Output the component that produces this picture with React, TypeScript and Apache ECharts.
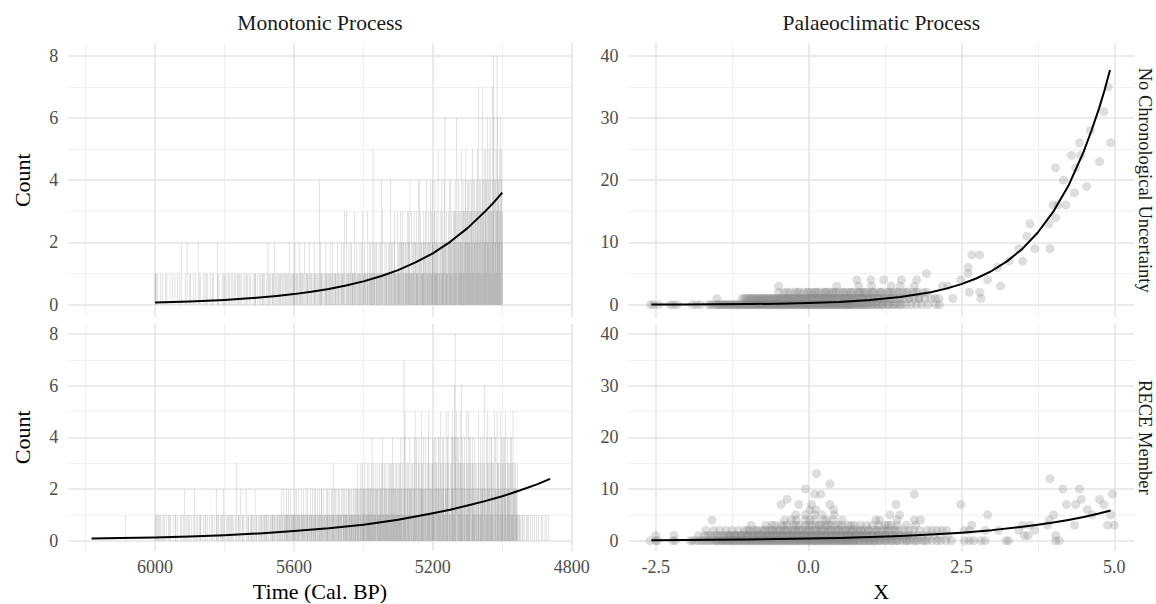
import React, { useEffect, useRef } from "react";
import * as echarts from "echarts";

// ---------- Monotonic process: yearly counts (one digit per year, oldest first) ----------
const topStartYear = 6000; // counts read from 6000 BP towards 5000 BP
const topCounts = [
  "1100100010 0000010000 0100000001 0000100000 0001000000 1000000100 0000010000 0100020000 0000000100 0020000001",
  "0001000000 1000001000 0000200010 0100000001 0000100100 0010000000 1000010010 0000000002 0100100000 0001000100",
  "1001000100 0010010000 1000100010 0100000101 0010010000 1000001001 0001000100 0100100000 0010000110 1000010000",
  "0100100010 1001001000 0100020100 1001000101 0010200010 1000101001 0101000100 1000110001 0100100200 1010010010",
  "1012001010 0100100201 1001010100 0200100110 1001020100 0110001002 1010010010 0104010210 1100100001 0120110010",
  "1001201010 0210010101 1010020110 0101001201 1020103010 0301010210 1020102011 1100130101 0201010110 2101020301",
  "1010211001 0131001210 1201110251 0211002120 1010121001 2041031010 1021012110 0112021041 1201020113 2011101031",
  "1120211302 2013021201 0212113012 3121401131 1201123012 2013112140 1402130212 1112312031 2041121302 1214031142",
  "2102314121 3121250121 1302114231 2214062121 3112032142 1242131203 2132413216 2031423122 3152132413 1324252314",
  "3224132413 2431523142 4213324153 2713241342 3174231452 2435142623 4251362413 3274836142 2453186342 4325163452",
  "3",
];

const bottomStartYear = 6090;
const bottomCounts = [
  "0000010000 0000000000 0000000000 0000000000 0000000000 0000000000 0000000000 0000000000 0000000000 0100100101",
  "0010001000 1000100010 0001000001 0100010000 0010000010 1000100000 0001000100 0100200001 0010000100 1000010000",
  "0100200010 0001000100 1010000001 0000101000 0100000100 0010010000 1000002010 0101000001 0010100200 1000010010",
  "0100010010 1001000100 0010300001 1000100200 0101001000 0020010010 1000100101 0010010020 0101000100 1000101010",
  "0100101001 1010010100 0101001011 1001010010 0110100101 1010201010 0201101012 1101020110 0210110101 1012011020",
  "1101201101 0210110120 1101021011 2010110201 1102011012 0121010210 1012101102 2101120101 0112011210 1201101021",
  "1203110210 2101210121 1021102110 0211201211 1120112021 2101211201 1211021211 2031212102 1213021312 2112312021",
  "1312213121 2213142121 3121213202 1231121312 2123143112 3212132121 1321231213 2132412312 1223131221 3121323142",
  "2103121742 5213102321 3122402213 2031213425 1214302131 4203122352 2314202142 3120132451 1322031213 4231142034",
  "3202134241 2153203124 2431102352 1243503121 3102435241 2416843205 4203142135 3162342103 2431203152 1352143204",
  "3021342131 2413021302 1352103412 1324203162 3021412351 2304213142 4132031502 2410253132 3102315241 2314032415",
  "3201324132 2314031413 1521302132 1213100101 0100100010 1000010001 0010001000 0100000100 0001000010 0000100000",
  "0010000100 0001000010 000100",
];

// fitted intensity curves
const topCurve = [
  [6000, 0.07], [5950, 0.085], [5900, 0.104], [5850, 0.127], [5800, 0.154], [5750, 0.188],
  [5700, 0.229], [5650, 0.279], [5600, 0.34], [5550, 0.415], [5500, 0.505], [5450, 0.616],
  [5400, 0.75], [5350, 0.915], [5300, 1.11], [5250, 1.36], [5200, 1.65], [5150, 2.02],
  [5100, 2.46], [5050, 2.99], [5025, 3.28], [5000, 3.6],
];
const bottomCurve = [
  [6183, 0.08], [6100, 0.1], [6000, 0.125], [5900, 0.16], [5800, 0.21], [5700, 0.28],
  [5600, 0.37], [5500, 0.48], [5400, 0.62], [5300, 0.81], [5200, 1.06], [5150, 1.2],
  [5100, 1.36], [5050, 1.53], [5000, 1.72], [4950, 1.94], [4900, 2.18], [4862, 2.39],
];

// ---------- Palaeoclimatic process: X values of the points at each count level ----------
const trLevels: number[][] = [
  [-2.58, -2.54, -2.45, -2.26, -2.21, -2.15, -1.9, -1.83, -1.77, -1.63, -1.6, -1.56, -1.52, -1.49, -1.45, -1.41, -1.38, -1.35, -1.31, -1.28, -1.25, -1.21, -1.18, -1.15, -1.12, -1.08, -1.05, -1.02, -0.99, -0.96, -0.92, -0.89, -0.86, -0.83, -0.8, -0.77, -0.74, -0.71, -0.68, -0.65, -0.62, -0.59, -0.56, -0.53, -0.5, -0.47, -0.44, -0.41, -0.38, -0.35, -0.32, -0.29, -0.26, -0.23, -0.2, -0.17, -0.14, -0.11, -0.08, -0.05, -0.02, 0.01, 0.04, 0.07, 0.1, 0.13, 0.16, 0.19, 0.22, 0.25, 0.28, 0.31, 0.34, 0.37, 0.4, 0.43, 0.46, 0.49, 0.52, 0.55, 0.58, 0.61, 0.64, 0.67, 0.7, 0.73, 0.77, 0.81, 0.85, 0.89, 0.93, 0.97, 1.01, 1.06, 1.11, 1.16, 1.21, 1.27, 1.33, 1.39, 1.46, 1.53, 1.6, 1.68, 1.76, 1.85, 1.95, 2.08, 2.14],
  [-1.5, -1.09, -1.05, -1.0, -0.96, -0.93, -0.89, -0.85, -0.82, -0.78, -0.75, -0.71, -0.68, -0.64, -0.61, -0.57, -0.54, -0.5, -0.47, -0.43, -0.4, -0.36, -0.33, -0.3, -0.26, -0.23, -0.19, -0.16, -0.12, -0.09, -0.05, -0.02, 0.02, 0.05, 0.09, 0.12, 0.16, 0.19, 0.23, 0.26, 0.3, 0.33, 0.37, 0.4, 0.44, 0.47, 0.51, 0.54, 0.58, 0.61, 0.65, 0.68, 0.72, 0.75, 0.79, 0.83, 0.87, 0.91, 0.95, 0.99, 1.03, 1.08, 1.13, 1.18, 1.23, 1.29, 1.35, 1.41, 1.48, 1.56, 1.64, 1.72, 1.81, 1.9, 2.0, 2.07, 2.13, 2.36, 2.82],
  [-0.49, -0.4, -0.3, -0.22, -0.15, -0.08, 0.0, 0.05, 0.1, 0.15, 0.2, 0.26, 0.3, 0.35, 0.4, 0.45, 0.5, 0.56, 0.62, 0.68, 0.73, 0.8, 0.85, 0.9, 0.96, 1.02, 1.08, 1.15, 1.2, 1.28, 1.34, 1.4, 1.48, 1.55, 1.62, 1.7, 1.78, 1.88, 1.93, 2.63, 2.8],
  [-0.49, 0.46, 0.82, 1.03, 1.35, 1.5, 1.73, 2.19, 2.28, 3.14],
  [0.79, 1.02, 1.23, 1.52, 1.77, 2.49, 2.93],
  [1.93, 2.61],
  [2.61, 3.09],
  [3.28, 3.5],
  [2.67, 2.8],
];
// second, overlapping layer of the densest part of the cloud
const trCore: number[][] = [
  [-1.47, -1.4, -1.33, -1.26, -1.19, -1.13, -1.06, -0.99, -0.93, -0.87, -0.81, -0.75, -0.69, -0.63, -0.57, -0.51, -0.45, -0.39, -0.33, -0.27, -0.21, -0.15, -0.09, -0.03, 0.03, 0.09, 0.15, 0.21, 0.27, 0.33, 0.39, 0.45, 0.51, 0.57, 0.63, 0.69, 0.75, 0.82, 0.89, 0.96, 1.04, 1.12, 1.2, 1.3, 1.4, 1.5],
  [-1.02, -0.94, -0.87, -0.8, -0.73, -0.66, -0.59, -0.52, -0.45, -0.38, -0.31, -0.24, -0.17, -0.1, -0.03, 0.04, 0.11, 0.18, 0.25, 0.32, 0.39, 0.46, 0.53, 0.6, 0.67, 0.74, 0.81, 0.89, 0.97, 1.05, 1.14, 1.24, 1.35, 1.5, 1.65, 1.8],
  [-0.35, -0.18, -0.02, 0.12, 0.28, 0.42, 0.58, 0.7, 0.83, 0.93, 1.05, 1.18, 1.31, 1.45, 1.6, 1.75],
];
const trHigh = [
  [3.44, 9], [3.7, 9], [3.95, 9], [3.57, 11], [3.62, 13], [3.93, 13], [4.04, 14], [4.0, 16],
  [4.08, 16], [4.21, 16], [4.35, 18], [4.55, 19], [4.17, 20], [4.04, 22], [4.37, 22], [4.76, 23],
  [4.3, 24], [4.45, 24], [4.43, 26], [4.94, 26], [4.61, 28], [4.83, 31], [4.9, 35],
];

const brLevels: number[][] = [
  [-2.59, -2.5, -2.47, -2.22, -2.18, -1.93, -1.9, -1.85, -1.8, -1.76, -1.72, -1.68, -1.64, -1.6, -1.56, -1.52, -1.48, -1.44, -1.4, -1.37, -1.33, -1.3, -1.26, -1.23, -1.19, -1.16, -1.12, -1.09, -1.05, -1.02, -0.98, -0.95, -0.92, -0.88, -0.85, -0.82, -0.78, -0.75, -0.72, -0.68, -0.65, -0.62, -0.59, -0.55, -0.52, -0.49, -0.46, -0.42, -0.39, -0.36, -0.33, -0.3, -0.26, -0.23, -0.2, -0.17, -0.14, -0.1, -0.07, -0.04, -0.01, 0.02, 0.06, 0.09, 0.12, 0.15, 0.18, 0.22, 0.25, 0.28, 0.31, 0.34, 0.38, 0.41, 0.44, 0.47, 0.5, 0.54, 0.57, 0.6, 0.63, 0.66, 0.7, 0.73, 0.76, 0.8, 0.84, 0.88, 0.92, 0.96, 1.0, 1.04, 1.08, 1.12, 1.17, 1.22, 1.27, 1.32, 1.37, 1.42, 1.48, 1.54, 1.6, 1.66, 1.72, 1.79, 1.86, 1.94, 2.02, 2.1, 2.16, 2.25, 2.34, 2.55, 2.63, 2.7, 2.82, 2.89, 3.23, 3.27, 4.04, 4.1],
  [-2.5, -2.2, -1.8, -1.7, -1.65, -1.6, -1.55, -1.5, -1.46, -1.42, -1.38, -1.34, -1.3, -1.26, -1.22, -1.18, -1.14, -1.1, -1.06, -1.02, -0.98, -0.94, -0.9, -0.86, -0.82, -0.78, -0.74, -0.7, -0.66, -0.62, -0.58, -0.54, -0.5, -0.46, -0.42, -0.38, -0.34, -0.3, -0.26, -0.22, -0.18, -0.14, -0.1, -0.06, -0.02, 0.02, 0.06, 0.1, 0.14, 0.18, 0.22, 0.26, 0.3, 0.34, 0.38, 0.42, 0.46, 0.5, 0.54, 0.58, 0.62, 0.66, 0.7, 0.74, 0.78, 0.82, 0.86, 0.9, 0.95, 1.0, 1.05, 1.1, 1.15, 1.2, 1.26, 1.32, 1.38, 1.44, 1.5, 1.57, 1.64, 1.71, 1.78, 1.86, 1.95, 2.05, 2.15, 2.28, 3.53, 3.59, 4.04],
  [-1.68, -1.55, -1.45, -1.35, -1.25, -1.15, -1.05, -0.97, -0.9, -0.83, -0.76, -0.7, -0.64, -0.58, -0.52, -0.46, -0.4, -0.34, -0.28, -0.22, -0.16, -0.1, -0.04, 0.02, 0.08, 0.14, 0.2, 0.26, 0.32, 0.38, 0.44, 0.5, 0.56, 0.62, 0.68, 0.74, 0.8, 0.86, 0.92, 0.98, 1.05, 1.12, 1.19, 1.26, 1.33, 1.4, 1.48, 1.56, 1.64, 1.72, 1.82, 1.94, 2.02, 2.1, 2.18, 2.26, 2.55, 2.63, 2.89, 3.11, 3.44, 3.7],
  [-0.94, -0.7, -0.55, -0.45, -0.35, -0.25, -0.15, -0.05, 0.05, 0.12, 0.2, 0.28, 0.36, 0.44, 0.55, 0.65, 0.75, 0.85, 0.95, 1.05, 1.15, 1.25, 1.35, 1.45, 1.6, 1.75, 2.67, 3.5, 3.62, 3.91, 4.35, 4.89, 5.0],
  [-1.58, -0.39, -0.2, -0.05, 0.1, 0.25, 0.4, 0.55, 1.1, 1.16, 1.73, 1.83, 3.94],
  [-0.21, -0.05, 0.1, 0.22, 0.42, 1.33, 1.49, 2.93, 4.01, 4.64, 4.94],
  [0.02, 0.12, 0.41, 4.56],
  [-0.45, -0.16, 0.05, 0.35, 1.43, 2.49, 4.22, 4.37, 4.83],
  [-0.35, 4.46, 4.76],
  [0.1, 0.2, 1.73, 4.97],
  [-0.05, 4.16, 4.43],
  [0.35],
  [3.95],
  [0.13],
];
const brCore: number[][] = [
  [-1.5, -1.42, -1.35, -1.28, -1.21, -1.14, -1.07, -1.0, -0.93, -0.86, -0.79, -0.72, -0.65, -0.58, -0.51, -0.44, -0.37, -0.3, -0.23, -0.16, -0.09, -0.02, 0.05, 0.12, 0.19, 0.26, 0.33, 0.4, 0.47, 0.54, 0.61, 0.68, 0.75, 0.83, 0.91, 0.99, 1.07, 1.16, 1.25, 1.35, 1.45, 1.6, 1.75, 1.9],
  [-1.3, -1.2, -1.1, -1.0, -0.91, -0.83, -0.75, -0.67, -0.59, -0.51, -0.43, -0.35, -0.27, -0.19, -0.11, -0.03, 0.05, 0.13, 0.21, 0.29, 0.37, 0.45, 0.53, 0.61, 0.69, 0.77, 0.86, 0.95, 1.04, 1.14, 1.25, 1.37, 1.5, 1.62],
  [-1.0, -0.85, -0.72, -0.6, -0.48, -0.37, -0.25, -0.13, -0.01, 0.11, 0.23, 0.35, 0.47, 0.6, 0.72, 0.85, 0.98, 1.12, 1.27, 1.42],
  [-0.6, -0.4, -0.2, 0.0, 0.18, 0.32, 0.5, 0.7, 1.3],
  [-0.28, 0.02, 0.3, 1.45],
];

const trCurve = [
  [-2.57, 0.02], [-2, 0.036], [-1.5, 0.06], [-1, 0.1], [-0.5, 0.16], [0, 0.27], [0.5, 0.45],
  [1, 0.74], [1.5, 1.22], [2, 2.0], [2.25, 2.58], [2.5, 3.3], [2.75, 4.25], [3, 5.45],
  [3.25, 7.0], [3.5, 9.0], [3.75, 11.6], [4, 14.9], [4.25, 19.1], [4.5, 24.6], [4.625, 27.9],
  [4.75, 31.5], [4.84, 34.4], [4.93, 37.7],
];
const brCurve = [
  [-2.57, 0.099], [-2, 0.135], [-1.5, 0.18], [-1, 0.23], [-0.5, 0.305], [0, 0.4], [0.5, 0.52],
  [1, 0.69], [1.5, 0.9], [2, 1.18], [2.5, 1.55], [3, 2.04], [3.5, 2.68], [3.75, 3.06],
  [4, 3.5], [4.25, 4.02], [4.5, 4.6], [4.75, 5.25], [4.94, 5.85],
];

// ---------- axes ----------
const leftXRange = [4800, 6250];
const rightXRange = [-2.946, 5.326];
const leftYRange = [-0.4, 8.4];
const rightYRange = [-2, 42];
const leftXMajor = [4800, 5200, 5600, 6000];
const leftXMinor = [5000, 5400, 5800, 6200];
const leftYMajor = [0, 2, 4, 6, 8];
const leftYMinor = [1, 3, 5, 7];
const rightXMajor = [-2.5, 0, 2.5, 5];
const rightXMinor = [-1.25, 1.25, 3.75];
const rightYMajor = [0, 10, 20, 30, 40];
const rightYMinor = [5, 15, 25, 35];

const colTitles = ["Monotonic Process", "Palaeoclimatic Process"];
const rowTitles = ["No Chronological Uncertainty", "RECE Member"];

const FONT = '"Liberation Serif", "Times New Roman", serif';

function toBars(blocks: string[], startYear: number) {
  const digits = blocks.join("").replace(/\s/g, "").split("").map(Number);
  const out: number[][] = [];
  digits.forEach((c, i) => {
    if (c > 0) out.push([startYear - i, c]);
  });
  return out;
}
function toPoints(levels: number[][], core: number[][] = [], extra: number[][] = []) {
  const pts: number[][] = [];
  levels.forEach((xs, y) => xs.forEach((x) => pts.push([x, y])));
  core.forEach((xs, y) => xs.forEach((x) => pts.push([x, y])));
  return pts.concat(extra);
}

export default function App() {
  const ref = useRef<HTMLDivElement>(null);
  useEffect(() => {
    if (!ref.current) return;
    const chart = echarts.init(ref.current, undefined, { renderer: "svg" });

    const gridsPos = [
      { left: 68.3, top: 43.25, width: 503.4, height: 273.9 },
      { left: 628.4, top: 43.25, width: 505.8, height: 273.9 },
      { left: 68.3, top: 323.7, width: 503.4, height: 227.3 },
      { left: 628.4, top: 323.7, width: 505.8, height: 227.3 },
    ];
    const tickText = { fontFamily: FONT, fontSize: 18, color: "#4d4d4d" };
    const hidden = { axisLine: { show: false }, axisTick: { show: false }, splitLine: { show: false } };

    const xAxis = gridsPos.map((_, i) => {
      const left = i % 2 === 0;
      const bottom = i >= 2;
      return {
        type: "value",
        gridIndex: i,
        min: left ? leftXRange[0] : rightXRange[0],
        max: left ? leftXRange[1] : rightXRange[1],
        inverse: left,
        ...hidden,
        axisLabel: bottom
          ? {
              ...tickText,
              margin: 7,
              customValues: left ? leftXMajor : rightXMajor,
              formatter: (v: number) => (left ? String(v) : v.toFixed(1)),
            }
          : { show: false },
      };
    });
    const yAxis = gridsPos.map((_, i) => {
      const left = i % 2 === 0;
      return {
        type: "value",
        gridIndex: i,
        min: left ? leftYRange[0] : rightYRange[0],
        max: left ? leftYRange[1] : rightYRange[1],
        ...hidden,
        axisLabel: { ...tickText, margin: 10, customValues: left ? leftYMajor : rightYMajor },
      };
    });

    const MAJOR = { color: "#e4e4e4", width: 1.5, type: "solid" };
    const MINOR = { color: "#ededed", width: 0.8, type: "solid" };
    const gridLineSeries = gridsPos.map((_, i) => {
      const left = i % 2 === 0;
      const xMaj = left ? leftXMajor : rightXMajor;
      const xMin = left ? leftXMinor : rightXMinor;
      const yMaj = left ? leftYMajor : rightYMajor;
      const yMin = left ? leftYMinor : rightYMinor;
      return {
        type: "line",
        xAxisIndex: i,
        yAxisIndex: i,
        data: [],
        silent: true,
        z: 0,
        markLine: {
          silent: true,
          z: 1,
          symbol: ["none", "none"],
          label: { show: false },
          emphasis: { disabled: true },
          data: [
            ...xMin.map((v) => ({ xAxis: v, lineStyle: MINOR })),
            ...yMin.map((v) => ({ yAxis: v, lineStyle: MINOR })),
            ...xMaj.map((v) => ({ xAxis: v, lineStyle: MAJOR })),
            ...yMaj.map((v) => ({ yAxis: v, lineStyle: MAJOR })),
          ],
        },
      };
    });

    const barSeries = (data: number[][], idx: number) => ({
      type: "custom",
      xAxisIndex: idx,
      yAxisIndex: idx,
      z: 2,
      silent: true,
      data,
      renderItem: (_p: any, api: any) => {
        const yr = api.value(0);
        const c = api.value(1);
        const a = api.coord([yr + 0.5, c]);
        const b = api.coord([yr - 0.5, 0]);
        return {
          type: "rect",
          shape: {
            x: Math.min(a[0], b[0]),
            y: a[1],
            width: Math.abs(b[0] - a[0]),
            height: b[1] - a[1],
          },
          style: { fill: "rgba(120,120,120,0.4)", stroke: "rgba(120,120,120,0.25)", lineWidth: 0.15 },
        };
      },
    });
    const scatterSeries = (data: number[][], idx: number) => ({
      type: "scatter",
      xAxisIndex: idx,
      yAxisIndex: idx,
      z: 2,
      silent: true,
      symbolSize: 9,
      itemStyle: { color: "rgba(128,128,128,0.33)" },
      data,
    });
    const curveSeries = (data: number[][], idx: number) => ({
      type: "line",
      xAxisIndex: idx,
      yAxisIndex: idx,
      z: 4,
      silent: true,
      showSymbol: false,
      smooth: false,
      lineStyle: { color: "#000", width: 2, join: "round" },
      data,
    });

    const textStyle = (size: number, color = "#1a1a1a") => ({
      fontFamily: FONT,
      fontSize: size,
      fill: color,
      align: "center",
      verticalAlign: "middle",
    });
    const rowCenters = [43.25 + 273.9 / 2, 323.7 + 227.3 / 2];

    chart.setOption({
      animation: false,
      backgroundColor: "#ffffff",
      grid: gridsPos,
      xAxis,
      yAxis,
      series: [
        ...gridLineSeries,
        barSeries(toBars(topCounts, topStartYear), 0),
        barSeries(toBars(bottomCounts, bottomStartYear), 2),
        scatterSeries(toPoints(trLevels, trCore, trHigh), 1),
        scatterSeries(toPoints(brLevels, brCore), 3),
        curveSeries(topCurve, 0),
        curveSeries(bottomCurve, 2),
        curveSeries(trCurve, 1),
        curveSeries(brCurve, 3),
      ],
      graphic: [
        { type: "text", x: 320, y: 22.5, style: { text: colTitles[0], ...textStyle(21.5) } },
        { type: "text", x: 881.3, y: 22.5, style: { text: colTitles[1], ...textStyle(21.5) } },
        { type: "text", x: 1145, y: rowCenters[0], rotation: -Math.PI / 2, style: { text: rowTitles[0], ...textStyle(18.5) } },
        { type: "text", x: 1145, y: rowCenters[1], rotation: -Math.PI / 2, style: { text: rowTitles[1], ...textStyle(18.5) } },
        { type: "text", x: 22, y: rowCenters[0], rotation: Math.PI / 2, style: { text: "Count", ...textStyle(22, "#000") } },
        { type: "text", x: 22, y: rowCenters[1], rotation: Math.PI / 2, style: { text: "Count", ...textStyle(22, "#000") } },
        { type: "text", x: 320, y: 591, style: { text: "Time (Cal. BP)", ...textStyle(22, "#000") } },
        { type: "text", x: 881.3, y: 591, style: { text: "X", ...textStyle(22, "#000") } },
      ],
    });
    return () => chart.dispose();
  }, []);
  return (
    <div
      ref={ref}
      style={{ position: "fixed", left: 0, top: 0, width: 1156, height: 604, background: "#fff" }}
    />
  );
}
